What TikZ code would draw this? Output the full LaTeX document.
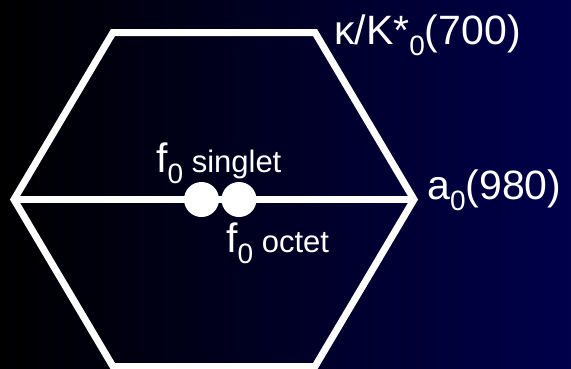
\documentclass[tikz,border=0pt]{standalone}
\usepackage{fontspec}
\setmainfont{Liberation Sans}
\usetikzlibrary{positioning}
\definecolor{bgnavy}{HTML}{00004B}
\newcommand{\lowzero}{\raisebox{-11pt}{\fontsize{28}{28}\selectfont 0}}
\newcommand{\smalltxt}[1]{{\fontsize{31}{34}\selectfont #1}}

\begin{document}
\begin{tikzpicture}[x=1pt, y=-1pt,
  edge/.style={draw=white, line width=7pt, line join=miter},
  dot/.style={circle, fill=white, minimum size=35pt, inner sep=0pt},
  lbl/.style={text=white, inner sep=0pt, anchor=base west,
              font=\fontsize{41}{46}\selectfont}]
  \useasboundingbox (0,0) rectangle (571,368);
  \shade[left color=black, right color=bgnavy] (0,0) rectangle (571,368);
  % hexagon corners
  \coordinate (tl) at (113,32.5);
  \coordinate (tr) at (315,32.5);
  \coordinate (rgt) at (414,199.5);
  \coordinate (br) at (315,366.5);
  \coordinate (bl) at (113,366.5);
  \coordinate (lft) at (14,199.5);
  \draw[edge] (tl) -- (tr) -- (rgt) -- (br) -- (bl) -- (lft) -- cycle;
  \draw[edge] (lft) -- (rgt);
  \node[dot] (fsing) at (201.5,199.5) {};
  \node[dot] (foct) at (239,199.5) {};
  % labels
  \node[lbl] (kappa) at (334,44) {κ/K*\lowzero(700)};
  \node[lbl] (azero) at (427,199) {a\lowzero(980)};
  \node[lbl] (singlet) at (156,172) {f\lowzero\smalltxt{\ singlet}};
  \node[lbl] (octet) at (226,252) {f\lowzero\smalltxt{\ octet}};
\end{tikzpicture}
\end{document}
